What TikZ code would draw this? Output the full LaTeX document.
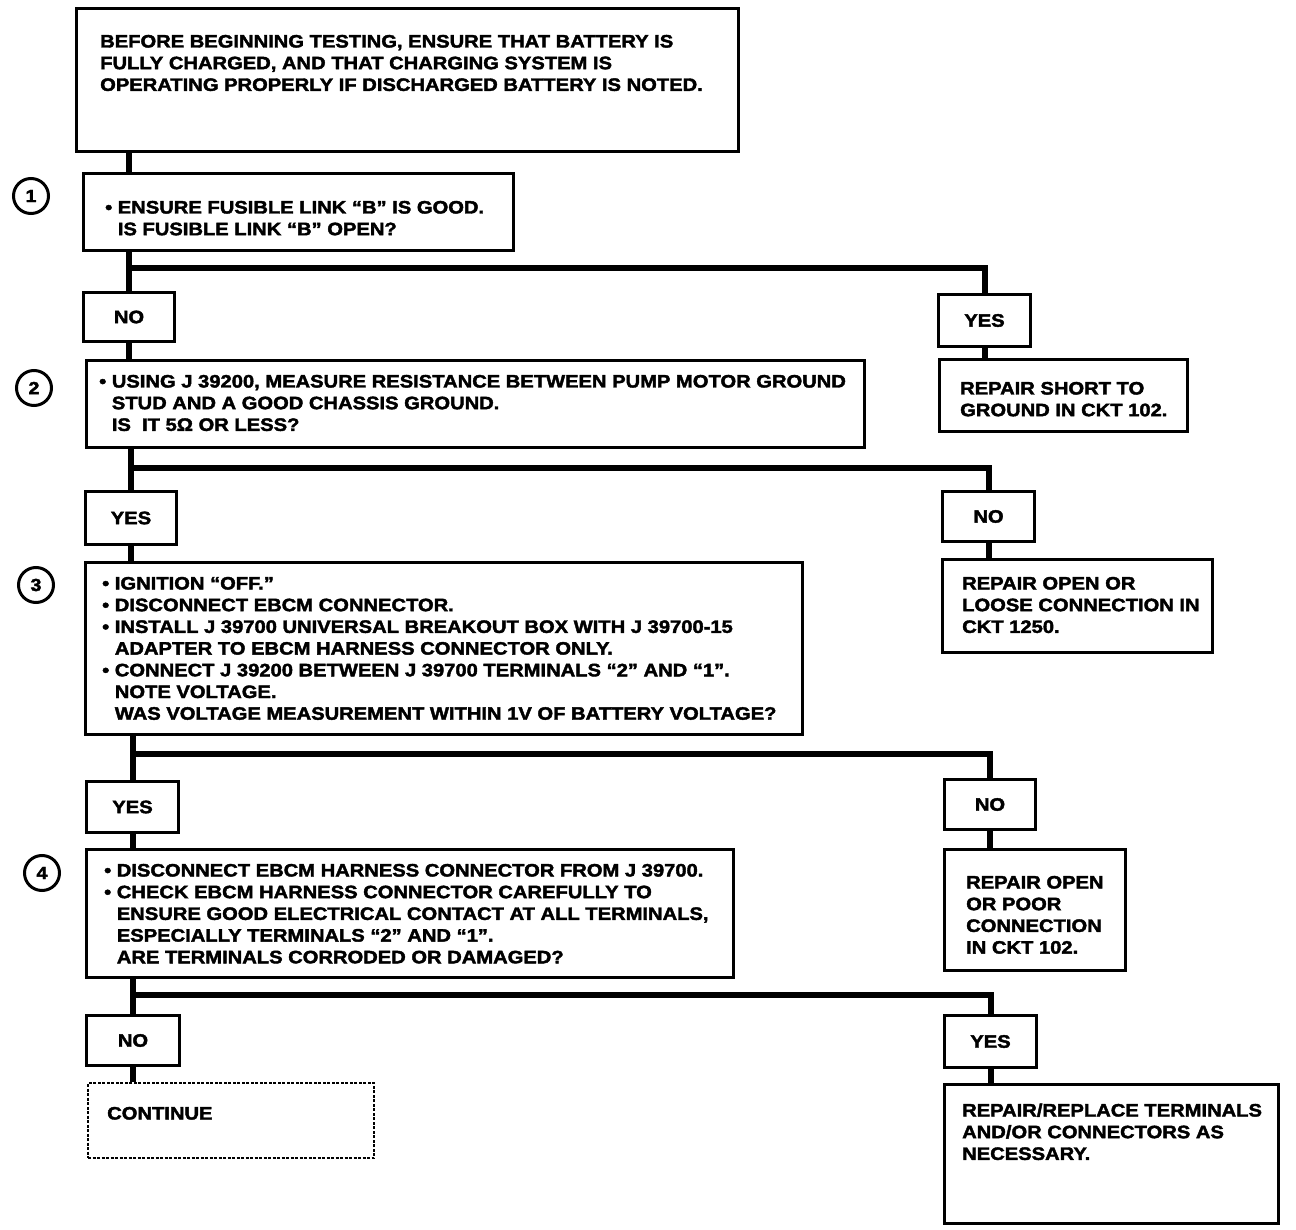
\documentclass[tikz,border=0pt]{standalone}
\usepackage{fontspec}
\setmainfont{Liberation Sans}[FakeStretch=1.12, BoldFeatures={FakeBold=2.2}]
\newcommand\mytx[1]{\begin{tabular}[t]{@{}l@{}}#1\end{tabular}}
\begin{document}
\begin{tikzpicture}[x=1pt,y=-1pt,
  bx/.style 2 args={draw, line width=3pt, inner sep=0pt, anchor=north west,
    minimum width=#1pt, minimum height=#2pt},
  yn/.style 2 args={bx={#1}{#2}, font=\fontsize{18}{21.7}\selectfont\bfseries},
  txt/.style={inner sep=0pt, anchor=base west,
    font=\fontsize{18}{21.7}\selectfont\bfseries},
  num/.style={draw, circle, line width=3pt, minimum size=35pt, inner sep=0pt,
    font=\fontsize{17.5}{17.5}\selectfont\bfseries},
  conn/.style={line width=6pt},
  dashbox/.style={line width=2pt, dash pattern=on 3pt off 1.5pt}]
\useasboundingbox (0,0) rectangle (1296,1230);
\def\ind{\phantom{• }}
% boxes
\node[bx={662}{143}] (top) at (75,7) {};
\node[txt] (toptx) at (100,47.5) {\mytx{BEFORE BEGINNING TESTING, ENSURE THAT BATTERY IS\\FULLY CHARGED, AND THAT CHARGING SYSTEM IS\\OPERATING PROPERLY IF DISCHARGED BATTERY IS NOTED.}};

\node[bx={430}{77}] (box1) at (82,172) {};
\node[txt] (box1tx) at (105,213.5) {\mytx{• ENSURE FUSIBLE LINK “B” IS GOOD.\\\ind IS FUSIBLE LINK “B” OPEN?}};
\node[num] (c1) at (31,196) {1};

\node[yn={91}{49}] (no1) at (82,291) {NO};
\node[yn={92}{52}] (yes1) at (937,293) {YES};
\node[bx={248}{72}] (rep1) at (938,358) {};
\node[txt] (rep1tx) at (960,394.5) {\mytx{REPAIR SHORT TO\\GROUND IN CKT 102.}};

\node[bx={778}{87}] (box2) at (85,359) {};
\node[txt] (box2tx) at (99,387.5) {\mytx{• USING J 39200, MEASURE RESISTANCE BETWEEN PUMP MOTOR GROUND\\\ind STUD AND A GOOD CHASSIS GROUND.\\\ind IS\ \ IT 5Ω OR LESS?}};
\node[num] (c2) at (34,388) {2};

\node[yn={91}{53}] (yes2) at (84,490) {YES};
\node[yn={92}{50}] (no2) at (941,490) {NO};
\node[bx={270}{93}] (rep2) at (941,558) {};
\node[txt] (rep2tx) at (962,589.5) {\mytx{REPAIR OPEN OR\\LOOSE CONNECTION IN\\CKT 1250.}};

\node[bx={717}{172}] (box3) at (84,561) {};
\node[txt] (box3tx) at (102,589.5) {\mytx{• IGNITION “OFF.”\\• DISCONNECT EBCM CONNECTOR.\\• INSTALL J 39700 UNIVERSAL BREAKOUT BOX WITH J 39700-15\\\ind ADAPTER TO EBCM HARNESS CONNECTOR ONLY.\\• CONNECT J 39200 BETWEEN J 39700 TERMINALS “2” AND “1”.\\\ind NOTE VOLTAGE.\\\ind WAS VOLTAGE MEASUREMENT WITHIN 1V OF BATTERY VOLTAGE?}};
\node[num] (c3) at (36,585) {3};

\node[yn={92}{51}] (yes3) at (85,780) {YES};
\node[yn={91}{50}] (no3) at (943,778) {NO};
\node[bx={181}{121}] (rep3) at (943,848) {};
\node[txt] (rep3tx) at (966,888.5) {\mytx{REPAIR OPEN\\OR POOR\\CONNECTION\\IN CKT 102.}};

\node[bx={647}{128}] (box4) at (85,848) {};
\node[txt] (box4tx) at (104,876.5) {\mytx{• DISCONNECT EBCM HARNESS CONNECTOR FROM J 39700.\\• CHECK EBCM HARNESS CONNECTOR CAREFULLY TO\\\ind ENSURE GOOD ELECTRICAL CONTACT AT ALL TERMINALS,\\\ind ESPECIALLY TERMINALS “2” AND “1”.\\\ind ARE TERMINALS CORRODED OR DAMAGED?}};
\node[num] (c4) at (42,873) {4};

\node[yn={93}{50}] (no4) at (85,1014) {NO};
\node[yn={92}{52}] (yes4) at (943,1014) {YES};
\node[bx={286}{75}, dashbox] (cont) at (87,1082) {};
\node[txt] (conttx) at (107,1119.5) {CONTINUE};
\node[bx={334}{139}] (rep4) at (943,1083) {};
\node[txt] (rep4tx) at (962,1116.5) {\mytx{REPAIR/REPLACE TERMINALS\\AND/OR CONNECTORS AS\\NECESSARY.}};

% branch points
\path (no1.north) ++(0,-23) coordinate (b1);
\path (yes2.north) ++(0,-22) coordinate (b2);
\path (yes3.north) ++(0,-26) coordinate (b3);
\path (no4.north) ++(0,-19) coordinate (b4);

% connectors
\draw[conn] (top.south -| no1.north) -- (box1.north -| no1.north);
\draw[conn] (box1.south -| no1.north) -- (no1.north);
\draw[conn] (b1) -| (yes1.north);
\draw[conn] (yes1.south) -- (rep1.north -| yes1.south);
\draw[conn] (no1.south) -- (box2.north -| no1.south);

\draw[conn] (box2.south -| yes2.north) -- (yes2.north);
\draw[conn] (b2) -| (no2.north);
\draw[conn] (no2.south) -- (rep2.north -| no2.south);
\draw[conn] (yes2.south) -- (box3.north -| yes2.south);

\draw[conn] (box3.south -| yes3.north) -- (yes3.north);
\draw[conn] (b3) -| (no3.north);
\draw[conn] (no3.south) -- (rep3.north -| no3.south);
\draw[conn] (yes3.south) -- (box4.north -| yes3.south);

\draw[conn] (box4.south -| no4.north) -- (no4.north);
\draw[conn] (b4) -| (yes4.north);
\draw[conn] (no4.south) -- (cont.north -| no4.south);
\draw[conn] (yes4.south) -- (rep4.north -| yes4.south);
\end{tikzpicture}
\end{document}
